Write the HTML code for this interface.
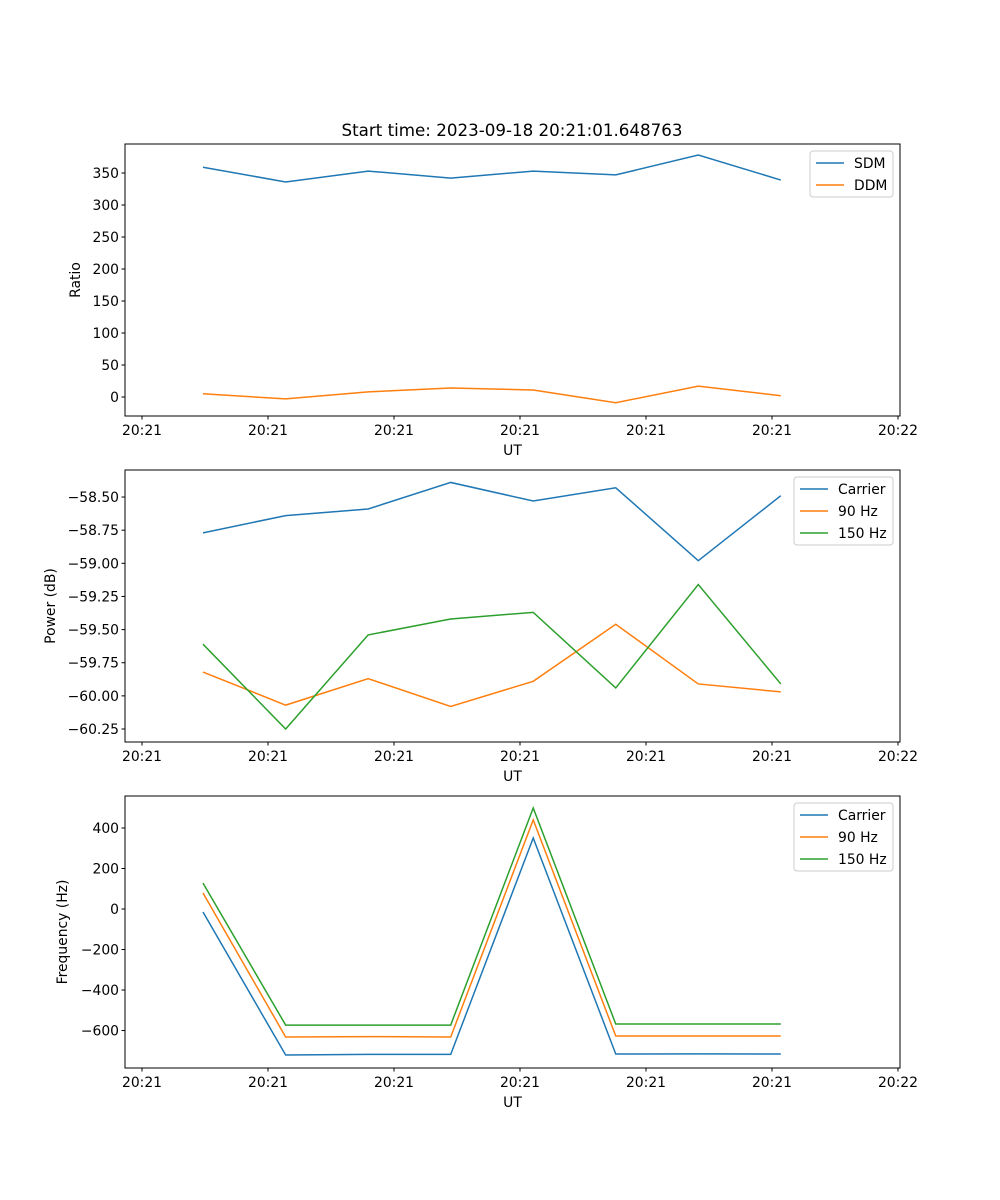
<!DOCTYPE html>
<html><head><meta charset="utf-8"><style>
body{margin:0;background:#fff}
svg{display:block;font-family:"DejaVu Sans","Liberation Sans",sans-serif}
</style></head><body>
<svg id="fig" width="1000" height="1200" xmlns="http://www.w3.org/2000/svg">
<text x="512" y="136" font-size="16.7" text-anchor="middle">Start time: 2023-09-18 20:21:01.648763</text>
</svg>
<script>
const times=[4.84,11.4,17.95,24.5,31.05,37.6,44.15,50.7];
const xTicks=[0,10,20,30,40,50,60];
const xTickLabels=["20:21","20:21","20:21","20:21","20:21","20:21","20:22"];
const sdm=[359,336,353,342,353,347,378,339];
const ddm=[5,-3,8,14,11,-9,17,2];
const powCarrier=[-58.77,-58.64,-58.59,-58.39,-58.53,-58.43,-58.98,-58.49];
const pow90=[-59.82,-60.07,-59.87,-60.08,-59.89,-59.46,-59.91,-59.97];
const pow150=[-59.61,-60.25,-59.54,-59.42,-59.37,-59.94,-59.16,-59.91];
const freqCarrier=[-15,-721,-718,-718,351,-716,-715,-716];
const freq90=[79,-632,-630,-632,440,-627,-627,-627];
const freq150=[128,-573,-573,-573,499,-568,-568,-568];
const ticks1=[0,50,100,150,200,250,300,350];
const ticks2=[-60.25,-60.0,-59.75,-59.5,-59.25,-59.0,-58.75,-58.5];
const ticks3=[-600,-400,-200,0,200,400];

const NS="http://www.w3.org/2000/svg",svg=document.getElementById('fig');
function mk(t,a,p){const e=document.createElementNS(NS,t);for(const k in a)e.setAttribute(k,a[k]);(p||svg).appendChild(e);return e;}
const L=125,R=900,xMin=-1.35,xMax=60.16;
const X=v=>L+(v-xMin)/(xMax-xMin)*(R-L);
function panel(name,top,bot,yMin,yMax,yt,fmt,ylabel,series,leg){
  const Y=v=>bot-(v-yMin)/(yMax-yMin)*(bot-top);
  const g=mk('g',{});
  
  
  series.forEach(s=>{
    const p=mk('polyline',{points:s.d.map((v,i)=>X(times[i])+','+Y(v)).join(' '),fill:'none',stroke:s.c,'stroke-width':1.5},g);
    
    
  });
  const fr=mk('rect',{x:L,y:top,width:R-L,height:bot-top,fill:'none',stroke:'#000','stroke-width':1},g);
  
  
  xTicks.forEach((t,i)=>{
    const x=X(t);
    mk('line',{x1:x,x2:x,y1:bot,y2:bot+3.5,stroke:'#000'},g);
    const tx=mk('text',{x:x,y:bot+19,'font-size':13.9,'text-anchor':'middle'},g);
    tx.textContent=xTickLabels[i];
    
    
  });
  const xl=mk('text',{x:(L+R)/2,y:bot+39,'font-size':13.9,'text-anchor':'middle'},g);
  xl.textContent='UT';
  
  
  yt.forEach(t=>{
    const y=Y(t);
    mk('line',{x1:L-3.5,x2:L,y1:y,y2:y,stroke:'#000'},g);
    const tx=mk('text',{x:L-6,y:y+5,'font-size':13.9,'text-anchor':'end'},g);
    tx.textContent=fmt(t);
    
    
  });
  const yc=(top+bot)/2;
  const yl=mk('text',{x:leg.yx,y:yc,'font-size':13.9,'text-anchor':'middle',transform:'rotate(-90 '+leg.yx+' '+yc+')'},g);
  yl.textContent=ylabel;
  
  
  const lg=mk('g',{},g);
  
  
  mk('rect',{x:leg.x,y:top+7,width:R-7-leg.x,height:series.length*22+2,rx:3,fill:'#fff','fill-opacity':0.8,stroke:'#ccc'},lg);
  series.forEach((s,i)=>{
    const y=top+19+i*22;
    mk('line',{x1:leg.x+6,x2:leg.x+34,y1:y,y2:y,stroke:s.c,'stroke-width':1.5},lg);
    const tx=mk('text',{x:leg.x+44,y:y+5,'font-size':13.9},lg);
    tx.textContent=s.label;
    
    
  });
}
const B='#1f77b4',O='#ff7f0e',G='#2ca02c';
panel('ratio',144,416,-29.7,395.3,ticks1,v=>String(v),'Ratio',[{id:'sdm',label:'SDM',c:B,d:sdm},{id:'ddm',label:'DDM',c:O,d:ddm}],{x:810,yx:80});
panel('power',470,742,-60.348,-58.296,ticks2,v=>v.toFixed(2).replace('-','−'),'Power (dB)',[{id:'carrier',label:'Carrier',c:B,d:powCarrier},{id:'90hz',label:'90 Hz',c:O,d:pow90},{id:'150hz',label:'150 Hz',c:G,d:pow150}],{x:794,yx:55});
panel('frequency',796,1068,-785,558,ticks3,v=>String(v).replace('-','−'),'Frequency (Hz)',[{id:'carrier',label:'Carrier',c:B,d:freqCarrier},{id:'90hz',label:'90 Hz',c:O,d:freq90},{id:'150hz',label:'150 Hz',c:G,d:freq150}],{x:794,yx:67});
</script>
</body></html>
